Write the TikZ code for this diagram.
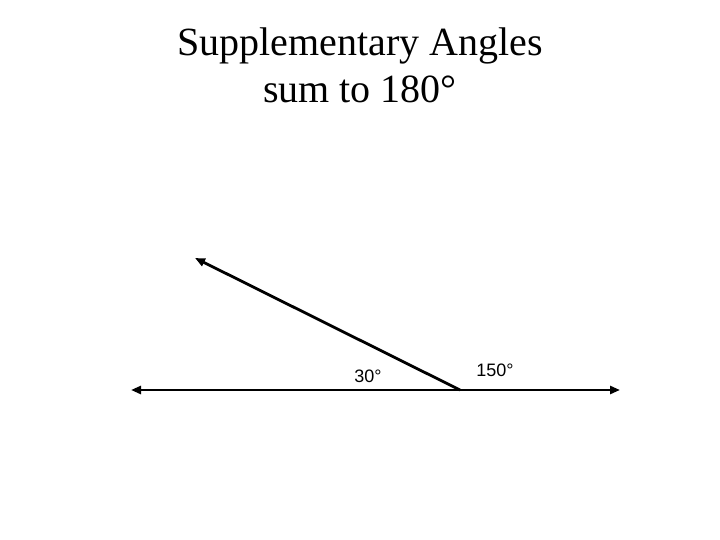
\documentclass[tikz,border=0pt]{standalone}
\usepackage{fontspec}
\setmainfont{Liberation Serif}
\newfontfamily\labfont{Liberation Sans}
\usetikzlibrary{arrows.meta}
\begin{document}
\begin{tikzpicture}[x=1pt,y=-1pt,
  ray/.style={line width=2.8pt,-{Triangle[length=10pt,width=8pt]}},
  title/.style={font=\fontsize{40}{48}\selectfont,inner sep=0pt,anchor=base},
  anglab/.style={font=\labfont\fontsize{18}{20}\selectfont,inner sep=0pt,anchor=base}]
\useasboundingbox (0,0) rectangle (720,540);
\node[title] (ttl1) at (360,56) {Supplementary Angles};
\node[title] (ttl2) at (360,103) {sum to 180°};
\coordinate (V) at (460,390);
\coordinate (L) at (131,390);
\coordinate (R) at (620,390);
\coordinate (T) at (195,258);
\draw[ray] (V) -- (L);
\draw[ray] (V) -- (R);
\draw[ray] (V) -- (T);
\node[anglab] (a30) at (368,382) {30°};
\node[anglab] (a150) at (495,376) {150°};
\end{tikzpicture}
\end{document}
